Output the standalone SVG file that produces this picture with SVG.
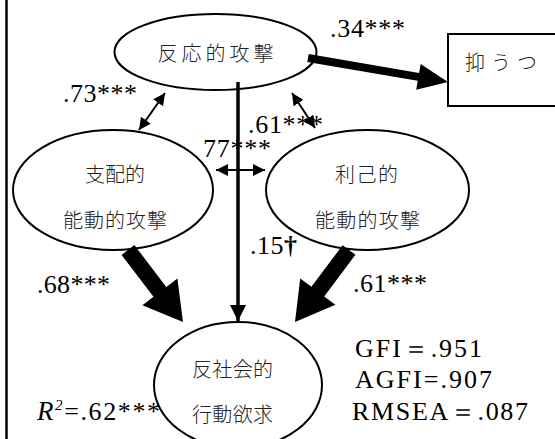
<svg xmlns="http://www.w3.org/2000/svg" width="555" height="439" viewBox="0 0 555 439">
<defs>
<style>
.node{fill:#fff;stroke:#000;stroke-width:2}
.jp{font-family:"Noto Sans CJK JP","Noto Sans",sans-serif;font-size:20px;font-weight:300;fill:#222;text-anchor:middle}
.lbl{font-family:"Liberation Serif","DejaVu Serif",serif;font-size:26px;fill:#000}
.thin{stroke:#000;stroke-width:2;fill:none}
</style>
<marker id="ah" viewBox="0 0 12 12" refX="12" refY="6" markerWidth="12" markerHeight="12" markerUnits="userSpaceOnUse" orient="auto-start-reverse">
<path d="M0,0 L12,6 L0,12 Z" fill="#000"/>
</marker>
<marker id="ahv" viewBox="0 0 16 16" refX="16" refY="8" markerWidth="16" markerHeight="16" markerUnits="userSpaceOnUse" orient="auto">
<path d="M0,0 L16,8 L0,16 Z" fill="#000"/>
</marker>
</defs>
<rect width="555" height="439" fill="#fff"/>
<line x1="6.5" y1="0" x2="6.5" y2="439" stroke="#000" stroke-width="2.5"/>
<text class="lbl" x="37" y="420" textLength="123" lengthAdjust="spacing"><tspan font-style="italic" font-size="27">R</tspan><tspan font-size="15" font-style="italic" dy="-10">2</tspan><tspan dy="10">=.62***</tspan></text>
<g id="node-reactive"><ellipse class="node" cx="215.5" cy="52" rx="101" ry="38"/><text class="jp" x="215.5" y="61" textLength="116" lengthAdjust="spacing">反応的攻撃</text></g>
<g id="node-depression"><rect class="node" x="448" y="34" width="200" height="72"/><text class="jp" x="501" y="70" font-size="22" textLength="72" lengthAdjust="spacing">抑うつ</text></g>
<g id="node-dominant"><ellipse class="node" cx="113" cy="190" rx="100" ry="60"/><text class="jp" x="115" y="182" textLength="60">支配的</text><text class="jp" x="115" y="228" textLength="104" lengthAdjust="spacing">能動的攻撃</text></g>
<g id="node-selfish"><ellipse class="node" cx="367.5" cy="190" rx="101.5" ry="60"/><text class="jp" x="366.5" y="182" textLength="63">利己的</text><text class="jp" x="367.5" y="228" textLength="105" lengthAdjust="spacing">能動的攻撃</text></g>
<g id="node-antisocial"><ellipse class="node" cx="238" cy="385" rx="84" ry="63"/><text class="jp" x="232.5" y="377" textLength="81" lengthAdjust="spacing">反社会的</text><text class="jp" x="232.5" y="422" textLength="81" lengthAdjust="spacing">行動欲求</text></g>
<g id="connectors">
<polygon points="307.3,62 417.7,80.8 416.2,89.7 448,82 420.6,64.1 419.1,73 308.7,54.1" fill="#000"/>
<line x1="238" y1="82" x2="238" y2="321" stroke="#000" stroke-width="3.5" marker-end="url(#ahv)"/>
<line class="thin" x1="165" y1="93" x2="139" y2="130" marker-start="url(#ah)" marker-end="url(#ah)"/>
<line class="thin" x1="292" y1="93" x2="315" y2="128" marker-start="url(#ah)" marker-end="url(#ah)"/>
<line class="thin" x1="216" y1="170" x2="265" y2="170" marker-start="url(#ah)" marker-end="url(#ah)"/>
<polygon points="121.6,254.9 153.5,296.7 142.4,305.2 183,322 177.4,278.4 166.3,286.9 134.4,245.1" fill="#000"/>
<polygon points="355.4,254.8 324.2,296.4 335.4,304.8 295,322 300.2,278.4 311.4,286.8 342.6,245.2" fill="#000"/>
</g>
<g id="labels">
<text class="lbl" x="330" y="37" textLength="75">.34***</text>
<text class="lbl" x="63" y="102" textLength="74">.73***</text>
<text class="lbl" x="248" y="133" textLength="75">.61***</text>
<text class="lbl" x="203" y="157" textLength="68">77***</text>
<text class="lbl" x="250" y="254" textLength="47">.15<tspan font-weight="bold">†</tspan></text>
<text class="lbl" x="37" y="293" textLength="73">.68***</text>
<text class="lbl" x="353" y="292" textLength="74">.61***</text>
<text class="lbl" x="355" y="357" textLength="127">GFI＝.951</text>
<text class="lbl" x="355" y="388" textLength="137">AGFI=.907</text>
<text class="lbl" x="352" y="420" textLength="176">RMSEA＝.087</text>
</g>
</svg>
